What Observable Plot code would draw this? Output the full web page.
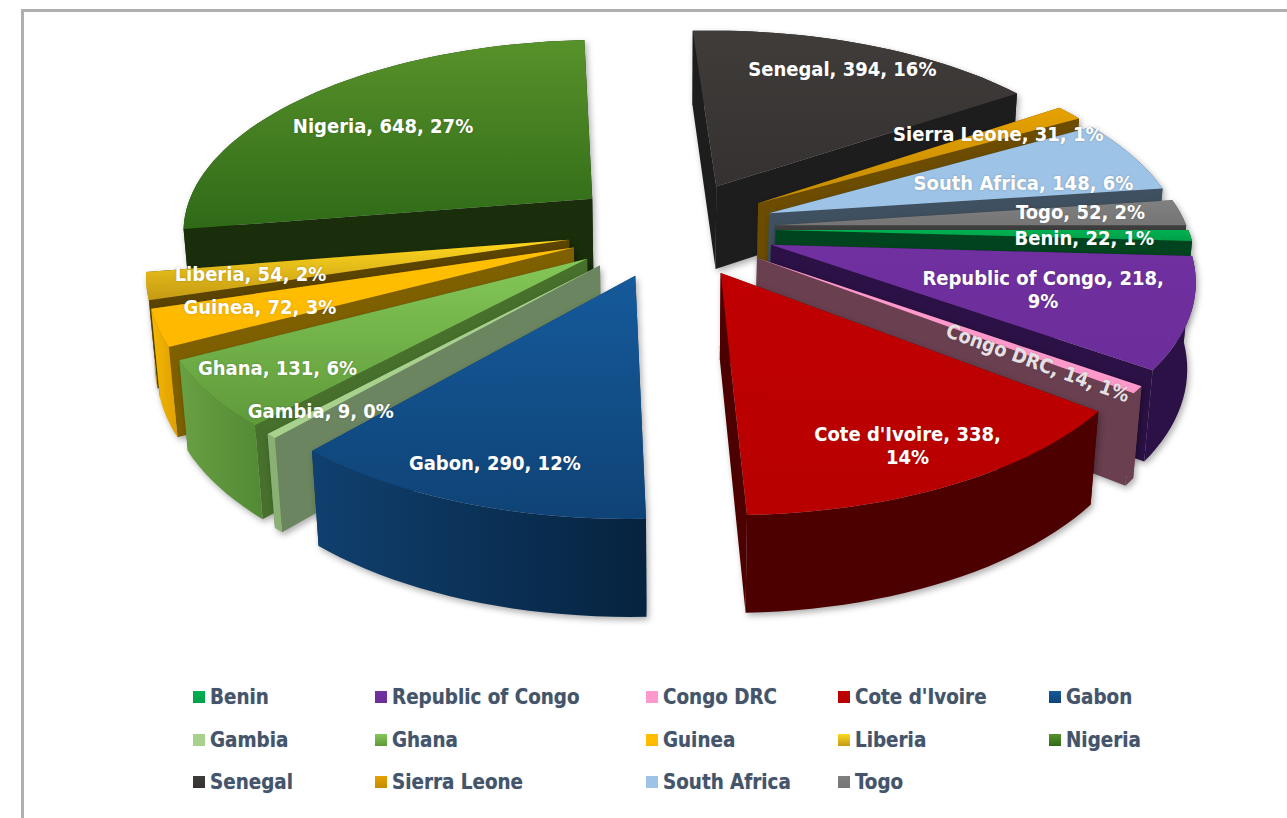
<!DOCTYPE html>
<html><head><meta charset="utf-8">
<script src="https://cdn.jsdelivr.net/npm/d3@7"></script>
<script src="https://cdn.jsdelivr.net/npm/@observablehq/plot@0.6"></script>
<style>
html,body{margin:0;padding:0;background:#fff;width:1287px;height:818px;overflow:hidden}
#frame{position:absolute;left:21px;top:9px;width:1300px;height:900px;border:3px solid #b0b0b0;box-sizing:border-box}
#chart{position:absolute;left:0;top:0}
#chart svg{background:transparent}
#chart g[aria-label="line"]{filter:drop-shadow(2px 3px 3px rgba(0,0,0,.32))}
#chart text{text-shadow:0 0 2px rgba(60,60,60,.35);font-stretch:condensed}
#legend{position:absolute;left:0;top:0;font:bold 20.4px "DejaVu Sans Condensed","DejaVu Sans";font-stretch:condensed;color:#44546A}
#legend .it{position:absolute;white-space:nowrap;line-height:22px;text-shadow:0 0 1px rgba(68,84,106,.4)}
#legend .sw{position:absolute;width:12px;height:12px}
</style></head><body>
<div id="frame"></div><div id="chart"></div><div id="legend"></div>
<script>
const names = ["Benin","Republic of Congo","Congo DRC","Cote d'Ivoire","Gabon","Gambia","Ghana","Guinea","Liberia","Nigeria","Senegal","Sierra Leone","South Africa","Togo"];
const values = [22,218,14,338,290,9,131,72,54,648,394,31,148,52];
const percents = [1,9,1,14,12,0,6,3,2,27,16,1,6,2];
const wrapLabel = [0,1,0,1,0,0,0,0,0,0,0,0,0,0];
const topLight = ["#00B050","#7030A0","#FF99CC","#C00000","#155A9B","#A9D18E","#84C858","#FFC000","#FFD81E","#58922A","#403C3A","#E6A100","#9DC3E6","#808080"];
const topDark  = ["#00A04A","#6C2E9A","#FF99CC","#B80000","#0F4376","#A9D18E","#5F9A3A","#FFB800","#C49A14","#2F6A18","#353130","#C48C00","#9DC3E6","#757575"];
const cutWall  = ["#00441F","#2B1145","#6A3F50","#4D0000","#0B3560","#6B8560","#46702B","#7F6000","#5B4300","#1A2E0C","#1E1D1D","#6B4C00","#3F5060","#3F3F3F"];
const outerLeft  = ["#00441F","#2B1145","#6A3F50","#4D0000","#10406F","#8AB074","#69A043","#F5B800","#D0A010","#1A2E0C","#1E1D1D","#6B4C00","#3F5060","#3F3F3F"];
const outerRight = ["#00441F","#2B1145","#6A3F50","#4D0000","#06233F","#8AB074","#528A35","#DFA000","#D0A010","#1A2E0C","#1E1D1D","#6B4C00","#3F5060","#3F3F3F"];
const labelRadius = [.743,.66,.772,.833,.844,.864,.83,.764,.76,.708,.815,.758,.667,.757];
const labelTurn = [1.5,0,2,.4,-.4,0,.7,.6,.4,-1.8,0,0,4.4,-1.5];
const labelRotate = [0,0,20,0,0,0,0,0,0,0,0,0,0,0];
const labelFill = ["#fff","#fff","#E6E0E4","#fff","#fff","#fff","#fff","#fff","#fff","#fff","#fff","#fff","#fff","#fff"];
const legendRows = [[0,1,2,3,4],[5,6,7,8,9],[10,11,12,13]];
const legendColX = [193,375,646,838,1049];
const legendRowY = [697,740,782];

const W = 1287, Hpx = 672;
const cx = 671, cy = 228, Rx = 412, Ry = 191;
const explode = .253, persp = .15, converge = .016, depth = .45;

const project = (X, Y, z) => {
  const w = 1 - persp * Y + converge * z;
  return [X / w, (Y + depth * z) / w];
};
const total = d3.sum(values);
const rad = d => d * Math.PI / 180;
let cum = 0;
const slices = names.map((name, i) => {
  const a0 = cum / total * 360; cum += values[i]; const a1 = cum / total * 360;
  const mid = (a0 + a1) / 2;
  return {name, i, a0, a1, mid, ox: explode * Math.cos(rad(mid)), oy: explode * Math.sin(rad(mid))};
});
const rim = (s, a) => [s.ox + Math.cos(rad(a)), s.oy + Math.sin(rad(a))];
const poly = (id, fill, pts) => [...pts, pts[0]].map(([u, v]) => ({u, v, id, fill}));
const arcAngles = s => { const m = Math.max(1, Math.ceil((s.a1 - s.a0) / 2)); return d3.range(m + 1).map(k => s.a0 + (s.a1 - s.a0) * k / m); };

function sliceFaces(s) {
  const faces = [];
  const wall = (a, key) => {
    const [x, y] = rim(s, a);
    faces.push({d: (y + s.oy) / 2, pts: poly(key, cutWall[s.i], [project(s.ox, s.oy, 0), project(x, y, 0), project(x, y, 1), project(s.ox, s.oy, 1)])});
  };
  wall(s.a0, s.name + "-a");
  wall(s.a1, s.name + "-b");
  const angles = arcAngles(s);
  const edge = angles.map(a => rim(s, a));
  faces.push({d: d3.mean(edge, e => e[1]), pts: poly(s.name + "-o", `url(#outer${s.i})`, [
    ...edge.map(([x, y]) => project(x, y, 0)),
    ...edge.slice().reverse().map(([x, y]) => project(x, y, 1))
  ])});
  faces.sort((a, b) => a.d - b.d);
  const topPts = [project(s.ox, s.oy, 0), ...edge.map(([x, y]) => project(x, y, 0))];
  return [...faces.flatMap(f => f.pts), ...poly(s.name + "-t", `url(#top${s.i})`, topPts)];
}

const defs = () => {
  const d = d3.create("svg:defs");
  slices.forEach(s => {
    const g = d.append("linearGradient").attr("id", "top" + s.i).attr("x1", 0).attr("y1", 0).attr("x2", 0).attr("y2", 1);
    g.append("stop").attr("offset", "0%").attr("stop-color", topLight[s.i]);
    g.append("stop").attr("offset", "100%").attr("stop-color", topDark[s.i]);
    const o = d.append("linearGradient").attr("id", "outer" + s.i).attr("x1", 0).attr("y1", 0).attr("x2", 1).attr("y2", 0);
    o.append("stop").attr("offset", "0%").attr("stop-color", outerLeft[s.i]);
    o.append("stop").attr("offset", "100%").attr("stop-color", outerRight[s.i]);
  });
  return d.node();
};

const ordered = [...slices].sort((a, b) => a.oy - b.oy);
const labels = slices.map(s => {
  const a = s.mid + labelTurn[s.i], r = labelRadius[s.i];
  const [u, v] = project(s.ox + r * Math.cos(rad(a)), s.oy + r * Math.sin(rad(a)), 0);
  return {u, v, rot: labelRotate[s.i], col: labelFill[s.i],
    text: `${s.name}, ${values[s.i]},${wrapLabel[s.i] ? "\n" : " "}${percents[s.i]}%`};
});

const plot = Plot.plot({
  width: W, height: Hpx, margin: 0,
  x: {domain: [-cx / Rx, (W - cx) / Rx], range: [0, W], axis: null},
  y: {domain: [-cy / Ry, (Hpx - cy) / Ry], range: [0, Hpx], axis: null},
  marks: [
    defs,
    ...ordered.map(s => Plot.line(sliceFaces(s), {x: "u", y: "v", z: "id", fill: "fill", curve: "linear", stroke: "none"})),
    Plot.text(labels, {x: "u", y: "v", text: "text", rotate: "rot", fill: "col", fontSize: 20, fontWeight: "bold", fontFamily: "'DejaVu Sans Condensed','DejaVu Sans'", lineHeight: 1.15, textAnchor: "middle"})
  ]
});
document.getElementById("chart").append(plot);

const lg = document.getElementById("legend");
legendRows.forEach((row, ri) => row.forEach((idx, ci) => {
  const sw = document.createElement("div"); sw.className = "sw";
  sw.style.left = legendColX[ci] + "px"; sw.style.top = (legendRowY[ri] - 6) + "px";
  sw.style.background = `linear-gradient(${topLight[idx]},${topDark[idx]})`;
  lg.append(sw);
  const t = document.createElement("div"); t.className = "it"; t.textContent = names[idx];
  t.style.left = (legendColX[ci] + 17) + "px"; t.style.top = (legendRowY[ri] - 11) + "px";
  lg.append(t);
}));
</script>
</body></html>
